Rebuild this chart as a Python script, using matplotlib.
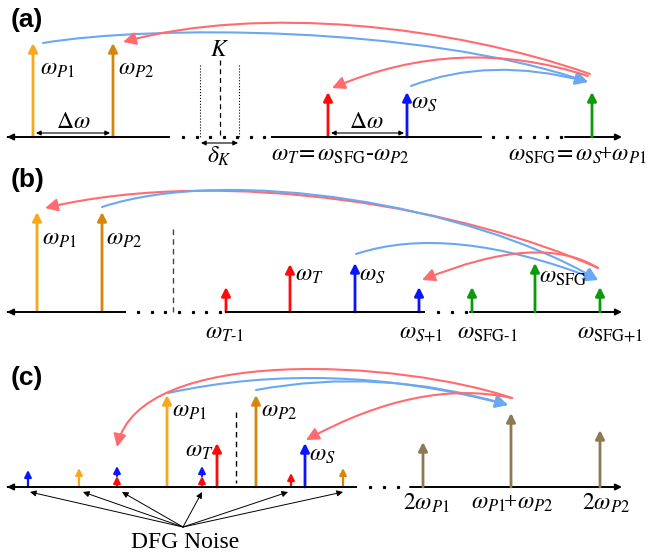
import matplotlib
matplotlib.use("Agg")
import matplotlib.pyplot as plt
import numpy as np
from matplotlib.patches import FancyArrowPatch
from matplotlib.path import Path

plt.rcParams['font.family'] = ['Liberation Serif', 'DejaVu Serif']
plt.rcParams['mathtext.fontset'] = 'stix'

# colours
c_p1 = '#F7A81B'
c_p2 = '#D4860B'
c_t = '#FF0A0A'
c_s = '#0A14FF'
c_sfg = '#0A9A0A'
c_sum = '#8B7B55'
c_rc = '#FF6B6E'
c_bc = '#6AA8F0'

# ---- panel data (frequency position, arrow top) ----
# (a)
a_base = 137
a_x = [33, 113, 328, 407, 592]
a_top = [43, 43, 92, 92, 92]
a_col = [c_p1, c_p2, c_t, c_s, c_sfg]
# (b)
b_base = 312
b_x = [37, 102, 226, 290, 355, 419, 472, 535, 600]
b_top = [212, 212, 287, 264, 263, 287, 287, 263, 287]
b_col = [c_p1, c_p2, c_t, c_t, c_s, c_s, c_sfg, c_sfg, c_sfg]
# (c)
c_base = 487
c_x = [167, 256, 217, 305, 423, 511, 600]
c_top = [395, 395, 443, 443, 442, 413, 430]
c_col = [c_p1, c_p2, c_t, c_s, c_sum, c_sum, c_sum]
# DFG noise arrows (x, top, colour) -- stacked ones listed bottom first
noise = [(28, 470, c_s), (79, 468, c_p1), (117, 476, c_t), (202, 476, c_t),
         (291, 473, c_t), (343, 468, c_p2)]
noise_stack = [(117, 476, 466, c_s), (202, 476, 466, c_s)]
noise_targets = [30, 83, 122, 202, 288, 343]

fig = plt.figure(figsize=(6.49, 5.56), dpi=100)
ax = fig.add_axes([0, 0, 1, 1])
ax.set_xlim(0, 649)
ax.set_ylim(556, 0)
ax.axis('off')


def arr(p0, p1, color, lw=2.0, ms=13, style='-|>'):
    a = FancyArrowPatch(p0, p1, arrowstyle=style, mutation_scale=ms, color=color,
                        lw=lw, shrinkA=0, shrinkB=0)
    ax.add_patch(a)


def curve(p0, ctrl, p1, color, lw=1.5, ms=19):
    verts = [p0] + list(ctrl) + [p1]
    codes = [Path.MOVETO] + ([Path.CURVE3] * 2 if len(ctrl) == 1 else [Path.CURVE4] * 3)
    a = FancyArrowPatch(path=Path(verts, codes), arrowstyle='-|>', mutation_scale=ms,
                        color=color, lw=lw)
    ax.add_patch(a)


def axis_line(y, segs, dots):
    for i, (x0, x1) in enumerate(segs):
        if i == 0:
            arr((x0 + 1, y), (x0, y), 'k', lw=1.4, ms=9)
            ax.plot([x0 + 1, x1], [y, y], color='k', lw=1.4, solid_capstyle='butt')
        elif i == len(segs) - 1:
            arr((x0, y), (x1, y), 'k', lw=1.4, ms=9)
        else:
            ax.plot([x0, x1], [y, y], color='k', lw=1.4, solid_capstyle='butt')
    ax.plot(dots, [y] * len(dots), 's', ms=1.3, color='k')


def label(x, y, s, ha='left', size=17, **kw):
    ax.text(x, y, s, ha=ha, va='center', fontsize=size, **kw)


def panel_tag(y, s):
    ax.text(11, y, s, fontsize=19, fontweight='bold', family='Liberation Sans', va='center')


# ---------------- (a) ----------------
axis_line(a_base, [(7, 170), (271, 482), (565, 622)],
          list(np.arange(183, 268, 13.5)) + list(np.arange(493, 562, 13.5)))
for x, t, c in zip(a_x, a_top, a_col):
    arr((x, a_base), (x, t), c)
arr((36, 133), (110, 133), 'k', lw=0.8, ms=7, style='<|-|>')
arr((331, 133), (404, 133), 'k', lw=0.8, ms=7, style='<|-|>')
label(73, 122, r'$\Delta\omega$', ha='center')
label(366, 122, r'$\Delta\omega$', ha='center')
ax.plot([200, 200], [65, 137], ':', color='k', lw=0.8)
ax.plot([239, 239], [65, 137], ':', color='k', lw=0.8)
ax.plot([220, 220], [60, 137], '--', color='k', lw=0.9, dashes=(4, 3))
arr((201, 143), (238, 143), 'k', lw=0.8, ms=7, style='<|-|>')
label(220, 50, r'$K$', ha='center')
label(219, 156, r'$\delta_K$', ha='center')
label(40, 70, r'$\omega_{P1}$')
label(118, 70, r'$\omega_{P2}$')
label(411, 104, r'$\omega_S$')
label(271, 155, r'$\omega_T\!=\omega_{\mathrm{SFG}}$-$\omega_{P2}$')
label(508, 155, r'$\omega_{\mathrm{SFG}}\!=\omega_S\!$+$\omega_{P1}$')
curve((43, 43), [(150, 25), (420, 25)], (588, 82), c_bc)
curve((590, 74), [(450, 25), (260, 5)], (123, 42), c_rc)
curve((588, 76), [(460, 34)], (332, 88), c_rc)
curve((411, 86), [(490, 56)], (588, 82), c_bc)
panel_tag(20, '(a)')

# ---------------- (b) ----------------
axis_line(b_base, [(7, 126), (225, 425), (470, 622)],
          list(np.arange(138, 222, 13.7)) + [438, 452, 466])
ax.plot([173, 173], [229, 312], '--', color='#444444', lw=1.0, dashes=(4, 3))
for x, t, c in zip(b_x, b_top, b_col):
    arr((x, b_base), (x, t), c)
label(42, 240, r'$\omega_{P1}$')
label(106, 240, r'$\omega_{P2}$')
label(295, 275, r'$\omega_T$')
label(359, 276, r'$\omega_S$')
label(539, 277, r'$\omega_{\mathrm{SFG}}$')
label(225, 334, r'$\omega_{T\text{-}1}$', ha='center')
label(421, 334, r'$\omega_{S\text{+}1}$', ha='center')
label(487, 334, r'$\omega_{\mathrm{SFG}\text{-}1}$', ha='center')
label(610, 334, r'$\omega_{\mathrm{SFG}\text{+}1}$', ha='center')
curve((598, 268), [(470, 210), (230, 165)], (45, 208), c_rc)
curve((102, 207), [(230, 165), (470, 205)], (598, 280), c_bc)
curve((356, 254), [(450, 223)], (598, 280), c_bc)
curve((598, 268), [(540, 232)], (422, 280), c_rc)
panel_tag(180, '(b)')

# ---------------- (c) ----------------
axis_line(c_base, [(7, 357), (410, 622)], [370, 384, 398])
ax.plot([236, 236], [412, 483], '--', color='k', lw=1.0, dashes=(4, 3))
for x, t, c in zip(c_x, c_top, c_col):
    arr((x, c_base), (x, t), c)
for x, t, c in noise:
    arr((x, c_base), (x, t), c, lw=1.6, ms=10)
for x, b, t, c in noise_stack:
    arr((x, b), (x, t), c, lw=1.6, ms=10)
for tx in noise_targets:
    arr((183, 527), (tx, 492), 'k', lw=0.7, ms=9)
label(185, 542, 'DFG Noise', ha='center')
label(172, 412, r'$\omega_{P1}$')
label(261, 412, r'$\omega_{P2}$')
label(214, 452, r'$\omega_T$', ha='right')
label(309, 455, r'$\omega_S$')
label(426, 503, r'$2\omega_{P1}$', ha='center')
label(512, 503, r'$\omega_{P1}\!$+$\omega_{P2}$', ha='center')
label(606, 503, r'$2\omega_{P2}$', ha='center')
curve((168, 393), [(330, 358)], (508, 405), c_bc)
curve((256, 390), [(380, 367)], (508, 405), c_bc)
curve((512, 398), [(400, 360), (140, 345)], (117, 447), c_rc)
curve((512, 398), [(420, 378)], (306, 440), c_rc)
panel_tag(378, '(c)')

fig.savefig('out.png', dpi=100)
